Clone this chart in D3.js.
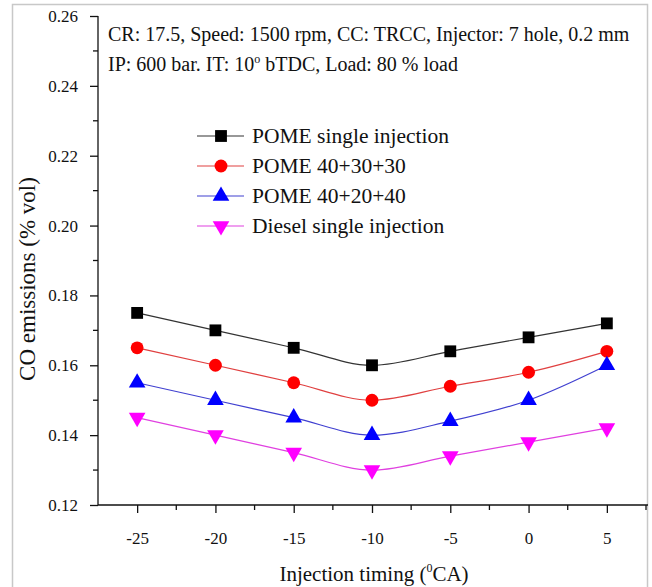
<!DOCTYPE html>
<html lang="en">
<head>
<meta charset="utf-8">
<title>CO emissions vs injection timing</title>
<script src="https://cdn.jsdelivr.net/npm/d3@7"></script>
<style>
    body { margin: 0; background: #fff; }
    text { font-family: "Liberation Serif", "Times New Roman", serif; fill: #111; }
    .axis path, .axis line { stroke: #111; stroke-width: 1.3; }
</style>
</head>
<body>
<svg id="chart" width="652" height="587"></svg>
<script>
// data
var timing = [-25, -20, -15, -10, -5, 0, 5];
var pomeSingle = [0.175, 0.170, 0.165, 0.160, 0.164, 0.168, 0.172];
var pome403030 = [0.165, 0.160, 0.155, 0.150, 0.154, 0.158, 0.164];
var pome402040 = [0.155, 0.150, 0.145, 0.140, 0.144, 0.150, 0.160];
var dieselSingle = [0.145, 0.140, 0.135, 0.130, 0.134, 0.138, 0.142];
var seriesNames = ["POME single injection", "POME 40+30+30", "POME 40+20+40", "Diesel single injection"];
var yTicks = [0.12, 0.14, 0.16, 0.18, 0.20, 0.22, 0.24, 0.26];
var xTicks = [-25, -20, -15, -10, -5, 0, 5];

var series = [
    {name: seriesNames[0], values: pomeSingle, color: "#000000", line: "#333333", symbol: d3.symbolSquare, size: 140, rot: 0},
    {name: seriesNames[1], values: pome403030, color: "#ff0000", line: "#e04040", symbol: d3.symbolCircle, size: 130, rot: 0},
    {name: seriesNames[2], values: pome402040, color: "#0000ff", line: "#4040d0", symbol: d3.symbolTriangle, size: 120, rot: 0},
    {name: seriesNames[3], values: dieselSingle, color: "#ff00ff", line: "#e040e0", symbol: d3.symbolTriangle, size: 120, rot: 180}
];

var svg = d3.select("#chart");

// light grey frame round the figure
svg.append("rect")
    .attr("x", 12.5).attr("y", 4.5)
    .attr("width", 635).attr("height", 600)
    .attr("fill", "none").attr("stroke", "#c8c8c8").attr("stroke-width", 1.5);

var x = d3.scaleLinear().domain([-27.5, 7.5]).range([98, 646]);
var y = d3.scaleLinear().domain([0.12, 0.26]).range([505, 16]);

// minor ticks
var yMinor = d3.range(0.13, 0.26, 0.02);
var xMinor = d3.range(-22.5, 8, 5);

var gy = svg.append("g").attr("class", "axis").attr("transform", "translate(98,0)");
gy.call(d3.axisLeft(y).tickValues(yTicks).tickSize(8).tickFormat(d3.format(".2f")));
gy.selectAll("text").style("font-size", "17px").attr("x", -20);
gy.select(".domain").attr("d", "M0," + y(0.12) + "V" + y(0.26));
gy.selectAll(".minor").data(yMinor).enter().append("line")
    .attr("x1", 0).attr("x2", -5)
    .attr("y1", function (d) { return y(d); }).attr("y2", function (d) { return y(d); })
    .attr("stroke", "#111").attr("stroke-width", 1.3);

var gx = svg.append("g").attr("class", "axis").attr("transform", "translate(0,505)");
gx.call(d3.axisBottom(x).tickValues(xTicks).tickSize(8)
    .tickFormat(function (d) { return String(d); }));
gx.selectAll("text").style("font-size", "17px").attr("y", 27);
gx.select(".domain").attr("d", "M" + x(-27.5) + ",0H" + (x(7.5) + 2));
gx.selectAll(".minor").data(xMinor).enter().append("line")
    .attr("y1", 0).attr("y2", 5)
    .attr("x1", function (d) { return x(d); }).attr("x2", function (d) { return x(d); })
    .attr("stroke", "#111").attr("stroke-width", 1.3);

// axis titles
svg.append("text")
    .attr("transform", "translate(35,279) rotate(-90)")
    .attr("text-anchor", "middle")
    .style("font-size", "23px")
    .text("CO emissions (% vol)");

var xt = svg.append("text")
    .attr("x", 374).attr("y", 581)
    .attr("text-anchor", "middle")
    .style("font-size", "21px");
xt.append("tspan").text("Injection timing (");
xt.append("tspan").attr("dy", -9).style("font-size", "12px").text("0");
xt.append("tspan").attr("dy", 9).text("CA)");

// annotation
svg.append("text")
    .attr("x", 108).attr("y", 41)
    .style("font-size", "20px")
    .text("CR: 17.5, Speed: 1500 rpm, CC: TRCC, Injector: 7 hole, 0.2 mm");
var ann2 = svg.append("text")
    .attr("x", 108).attr("y", 71)
    .style("font-size", "20px");
ann2.append("tspan").text("IP: 600 bar. IT: 10");
ann2.append("tspan").attr("dy", -8).style("font-size", "12px").text("o");
ann2.append("tspan").attr("dy", 8).text(" bTDC, Load: 80 % load");

// lines and markers
var line = d3.line()
    .x(function (d, i) { return x(timing[i]); })
    .y(function (d) { return y(d); })
    .curve(d3.curveMonotoneX);

series.forEach(function (s) {
    svg.append("path")
        .datum(s.values)
        .attr("d", line)
        .attr("fill", "none")
        .attr("stroke", s.line)
        .attr("stroke-width", 1.2);

    svg.selectAll(null).data(s.values).enter().append("path")
        .attr("d", d3.symbol().type(s.symbol).size(s.size))
        .attr("transform", function (d, i) {
            return "translate(" + x(timing[i]) + "," + y(d) + ") rotate(" + s.rot + ")";
        })
        .attr("fill", s.color);
});

// legend
var legend = svg.append("g").attr("transform", "translate(197,136)");
series.forEach(function (s, i) {
    var row = legend.append("g").attr("transform", "translate(0," + (i * 30) + ")");
    row.append("line")
        .attr("x1", 0).attr("x2", 47).attr("y1", 0).attr("y2", 0)
        .attr("stroke", s.line).attr("stroke-width", 1.2);
    row.append("path")
        .attr("d", d3.symbol().type(s.symbol).size(s.size))
        .attr("transform", "translate(24,0) rotate(" + s.rot + ")")
        .attr("fill", s.color);
    row.append("text")
        .attr("x", 55).attr("y", 7)
        .style("font-size", "21.5px")
        .text(s.name);
});
</script>
</body>
</html>
